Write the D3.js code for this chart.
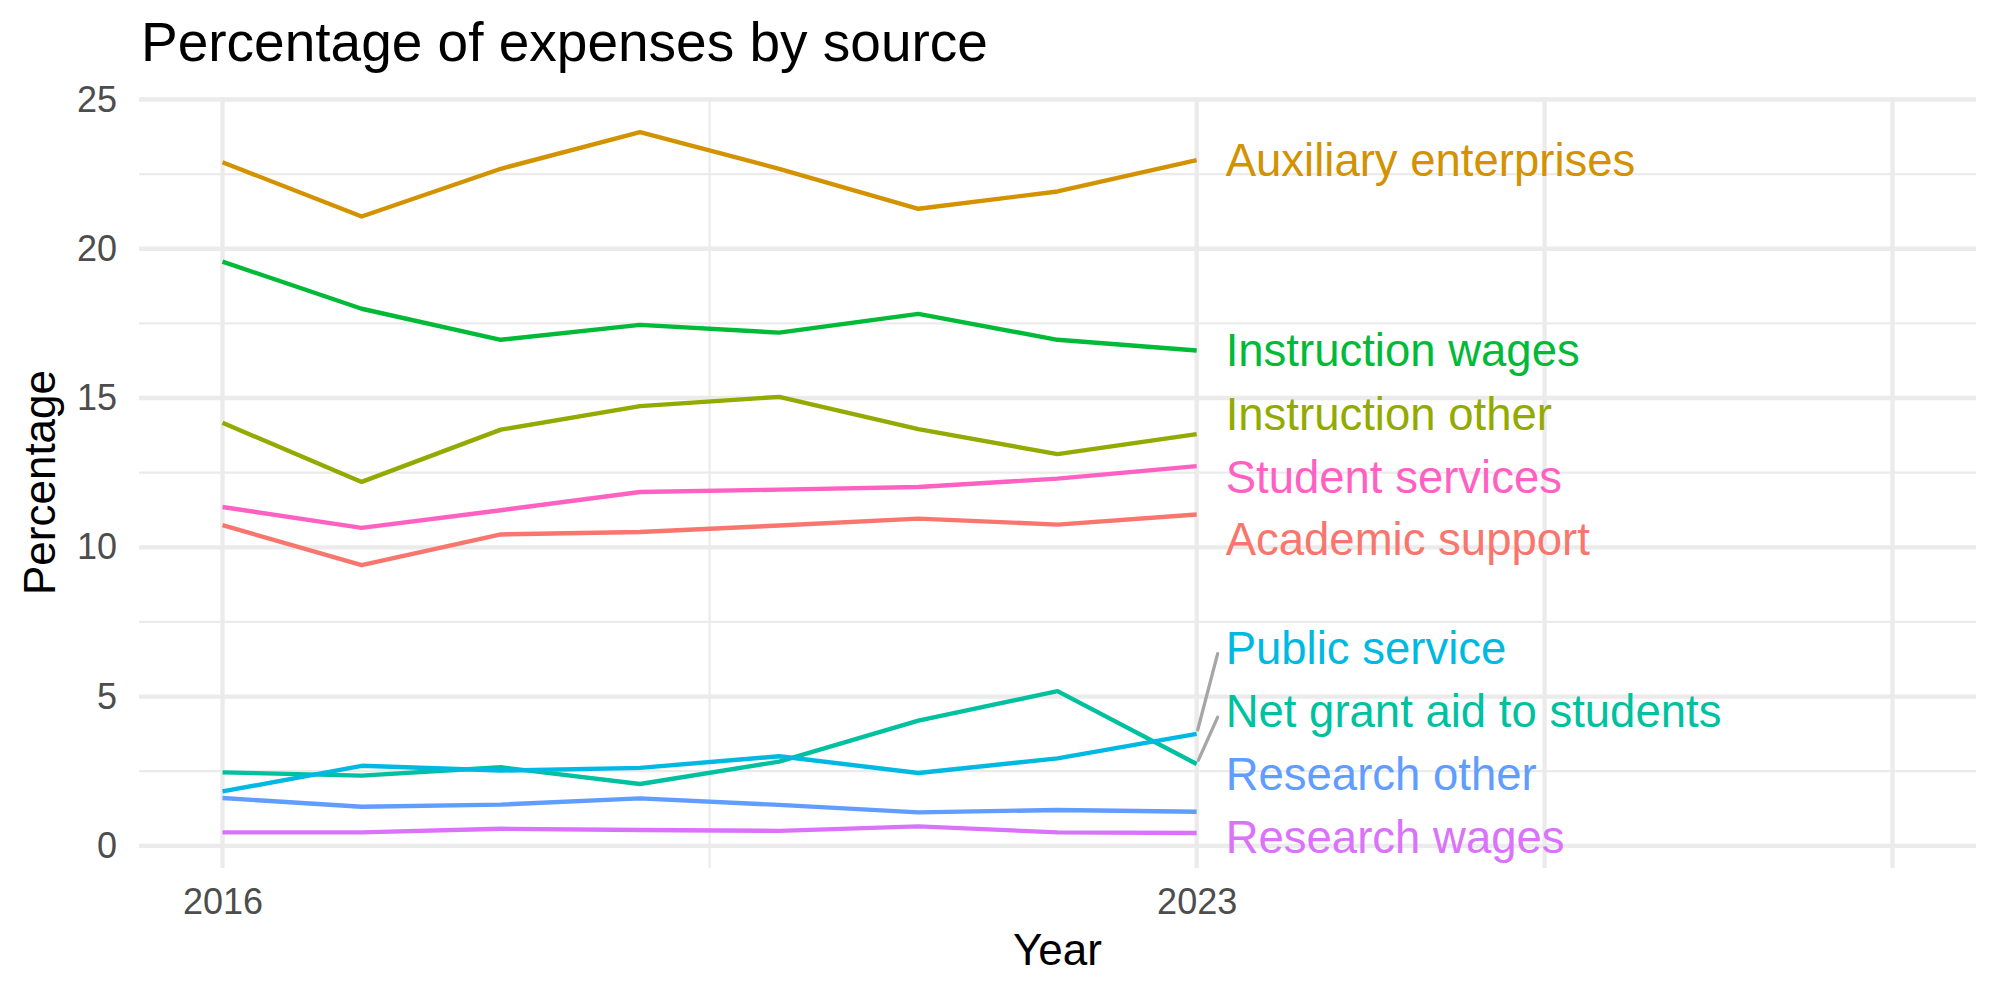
<!DOCTYPE html>
<html>
<head>
<meta charset="utf-8">
<script src="https://cdn.jsdelivr.net/npm/d3@7"></script>
<style>
  body { margin: 0; background: #fff; }
  text { font-family: "Liberation Sans", Arial, Helvetica, sans-serif; }
</style>
</head>
<body>
<div id="wrapper"></div>
<script>
// data
const years = [2016, 2017, 2018, 2019, 2020, 2021, 2022, 2023];
const seriesNames = [
  "Academic support", "Auxiliary enterprises", "Instruction other", "Instruction wages",
  "Net grant aid to students", "Public service", "Research other", "Research wages", "Student services"
];
const seriesColors = ["#F8766D", "#D39200", "#93AA00", "#00BA38", "#00C19F", "#00B9E3", "#619CFF", "#DB72FB", "#FF61C3"];

const academicSupport   = [10.74, 9.40, 10.43, 10.51, 10.73, 10.96, 10.76, 11.10];
const auxiliary         = [22.90, 21.08, 22.68, 23.91, 22.68, 21.34, 21.92, 22.97];
const instructionOther  = [14.17, 12.19, 13.94, 14.73, 15.04, 13.96, 13.12, 13.79];
const instructionWages  = [19.57, 17.99, 16.95, 17.45, 17.19, 17.82, 16.95, 16.59];
const netGrantAid       = [2.46, 2.35, 2.63, 2.07, 2.82, 4.19, 5.18, 2.74];
const publicService     = [1.82, 2.68, 2.52, 2.61, 3.00, 2.44, 2.93, 3.75];
const researchOther     = [1.60, 1.31, 1.38, 1.59, 1.37, 1.12, 1.20, 1.14];
const researchWages     = [0.45, 0.45, 0.57, 0.53, 0.50, 0.65, 0.45, 0.43];
const studentServices   = [11.35, 10.65, 11.24, 11.85, 11.93, 12.02, 12.30, 12.72];
const seriesValues = [academicSupport, auxiliary, instructionOther, instructionWages,
  netGrantAid, publicService, researchOther, researchWages, studentServices];

// where the repelled labels ended up (in percent)
const labelValues = [10.28, 22.98, 14.47, 16.60, 4.51, 6.64, 2.41, 0.31, 12.35];

const xLimits = [2016, 2028];
const xTickLabels = [2016, 2023];
const xMajorGrid = [2016, 2023, 2025.5, 2028];
const xMinorGrid = [2019.5];
const yMajorTicks = [0, 5, 10, 15, 20, 25];
const yMinorTicks = [2.5, 7.5, 12.5, 17.5, 22.5];

const dimensions = {
  width: 2000,
  height: 1000,
  margin: { top: 97, right: 24, bottom: 132, left: 139 },
};
dimensions.boundedWidth = dimensions.width - dimensions.margin.left - dimensions.margin.right;
dimensions.boundedHeight = dimensions.height - dimensions.margin.top - dimensions.margin.bottom;

const series = seriesNames.map((name, i) => ({
  name: name,
  color: seriesColors[i],
  label: labelValues[i],
  points: years.map((y, j) => ({ year: y, value: seriesValues[i][j] })),
}));

const svg = d3.select("#wrapper")
  .append("svg")
  .attr("width", dimensions.width)
  .attr("height", dimensions.height);

const bounds = svg.append("g")
  .attr("transform", `translate(${dimensions.margin.left},${dimensions.margin.top})`);

// ggplot style 5% expansion
const expand = (ext) => {
  const pad = (ext[1] - ext[0]) * 0.05;
  return [ext[0] - pad, ext[1] + pad];
};
const allValues = seriesValues.flat();

const xScale = d3.scaleLinear()
  .domain(expand(xLimits))
  .range([0, dimensions.boundedWidth]);

const yScale = d3.scaleLinear()
  .domain(expand(d3.extent(allValues)))
  .range([dimensions.boundedHeight, 0]);

// grid
const grid = bounds.append("g");
grid.selectAll(".ymin").data(yMinorTicks).join("line")
  .attr("x1", 0).attr("x2", dimensions.boundedWidth)
  .attr("y1", d => yScale(d)).attr("y2", d => yScale(d))
  .attr("stroke", "#ebebeb").attr("stroke-width", 2.2);
grid.selectAll(".xmin").data(xMinorGrid).join("line")
  .attr("y1", 0).attr("y2", dimensions.boundedHeight)
  .attr("x1", d => xScale(d)).attr("x2", d => xScale(d))
  .attr("stroke", "#ebebeb").attr("stroke-width", 2.2);
grid.selectAll(".ymaj").data(yMajorTicks).join("line")
  .attr("x1", 0).attr("x2", dimensions.boundedWidth)
  .attr("y1", d => yScale(d)).attr("y2", d => yScale(d))
  .attr("stroke", "#ebebeb").attr("stroke-width", 4.3);
grid.selectAll(".xmaj").data(xMajorGrid).join("line")
  .attr("y1", 0).attr("y2", dimensions.boundedHeight)
  .attr("x1", d => xScale(d)).attr("x2", d => xScale(d))
  .attr("stroke", "#ebebeb").attr("stroke-width", 4.3);

// axes, no domain lines or ticks (theme_minimal)
const yAxisGen = d3.axisLeft(yScale).tickValues(yMajorTicks).tickSize(0).tickPadding(22);
const yAxis = bounds.append("g").call(yAxisGen);
const xAxisGen = d3.axisBottom(xScale).tickValues(xTickLabels).tickFormat(d3.format("d")).tickSize(0).tickPadding(20);
const xAxis = bounds.append("g")
  .attr("transform", `translate(0,${dimensions.boundedHeight})`)
  .call(xAxisGen);
[xAxis, yAxis].forEach(a => {
  a.select(".domain").remove();
  a.selectAll("text")
    .attr("font-family", "Liberation Sans, Arial, sans-serif")
    .attr("font-size", 36)
    .attr("fill", "#4d4d4d");
});

// lines
const lineGen = d3.line()
  .x(d => xScale(d.year))
  .y(d => yScale(d.value));

bounds.append("g").selectAll("path")
  .data(series)
  .join("path")
  .attr("d", d => lineGen(d.points))
  .attr("fill", "none")
  .attr("stroke", d => d.color)
  .attr("stroke-width", 4.4)
  .attr("stroke-linejoin", "round");

// labels at the end of each line, with leader segments when pushed far away
const lastYear = years[years.length - 1];
const labelOffset = 29;
const labelFont = 45.5;
const labels = bounds.append("g");

series.forEach(s => {
  const px = xScale(lastYear);
  const py = yScale(s.points[s.points.length - 1].value);
  const ly = yScale(s.label);
  if (Math.abs(ly - py) > 45) {
    const ex = px + labelOffset - 8;
    const ey = ly + 6;
    const len = Math.hypot(ex - px, ey - py);
    labels.append("line")
      .attr("x1", px + (ex - px) / len * 4)
      .attr("y1", py + (ey - py) / len * 4)
      .attr("x2", ex)
      .attr("y2", ey)
      .attr("stroke", "#a6a6a6")
      .attr("stroke-width", 3.3)
      .attr("stroke-linecap", "round");
  }
  labels.append("text")
    .attr("x", px + labelOffset)
    .attr("y", ly + 16)
    .attr("fill", s.color)
    .attr("font-size", labelFont)
    .text(s.name);
});

// titles
svg.append("text")
  .attr("x", 141)
  .attr("y", 61)
  .attr("font-size", 55)
  .attr("fill", "#000")
  .text("Percentage of expenses by source");

svg.append("text")
  .attr("x", dimensions.margin.left + dimensions.boundedWidth / 2)
  .attr("y", 965)
  .attr("text-anchor", "middle")
  .attr("font-size", 44)
  .attr("fill", "#000")
  .text("Year");

svg.append("text")
  .attr("transform", `translate(55,${dimensions.margin.top + dimensions.boundedHeight / 2}) rotate(-90)`)
  .attr("text-anchor", "middle")
  .attr("font-size", 44)
  .attr("fill", "#000")
  .text("Percentage");
</script>
</body>
</html>
